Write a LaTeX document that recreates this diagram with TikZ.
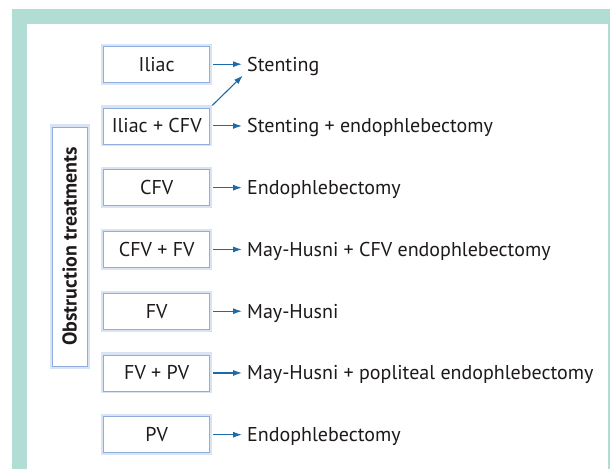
\documentclass[tikz,border=0pt]{standalone}
\usepackage{fontspec}
\setmainfont{PT Sans}
\usetikzlibrary{matrix,arrows.meta}
\definecolor{couleurcadre}{HTML}{B2DDD4}
\definecolor{couleurfleche}{HTML}{1D6AA6}
\definecolor{couleurlueur}{HTML}{8FAEDD}
\definecolor{couleurtext}{HTML}{1E1A1B}
\tikzset{
		basic/.style={draw=couleurlueur, line width=0.8pt, preaction={draw=couleurlueur!35, line width=5pt}, fill=white, text=couleurtext, text height=14pt, text depth=0pt, inner sep=0pt, anchor=center},
		site/.style={basic, minimum width=106pt, minimum height=36pt},
		titre/.style={basic, font=\bfseries, rotate=90, minimum width=239pt, minimum height=35pt},
		traitement/.style={text=couleurtext, text height=14pt, text depth=0pt, inner sep=2pt, anchor=west},
		fleche/.style={-{Latex[length=9pt,width=6pt]}, couleurfleche, line width=1.1pt, shorten <=3pt, shorten >=3pt}
	}
\begin{document}
\begin{tikzpicture}[x=1pt, y=1pt]
		\fontsize{20}{22} \selectfont
		% cadre
		\useasboundingbox (0,0) rectangle (610,469);
		\fill[white] (0,0) rectangle (610,469);
		\fill[couleurcadre] (12,0) rectangle (610,460);
		\fill[white] (27,0) rectangle (608,445);
		% titre vertical
		\node[titre](obstr) at (69.5,222.5){Obstruction treatments};
		% sites et traitements
		\matrix[row sep=20.75pt, column sep=33pt, anchor=north west, inner sep=0pt] at (101,425.5) {
			\node[site](iliac){Iliac}; & \node[traitement](stent){Stenting}; \\
			\node[site](iliacfv){Iliac + CFV}; & \node[traitement](stentendo){Stenting + endophlebectomy}; \\
			\node[site](cfv){CFV}; & \node[traitement](endocfv){Endophlebectomy}; \\
			\node[site](cfvfv){CFV + FV}; & \node[traitement](mayendo){May-Husni + CFV endophlebectomy}; \\
			\node[site](fv){FV}; & \node[traitement](mayhusni){May-Husni}; \\
			\node[site](fvpv){FV + PV}; & \node[traitement](maypopl){May-Husni + popliteal endophlebectomy}; \\
			\node[site](pv){PV}; & \node[traitement](endopv){Endophlebectomy}; \\
		};
		% fleches
		\draw[fleche] (iliac) -- (stent);
		\draw[fleche] (iliacfv) -- (stentendo);
		\draw[fleche] (iliacfv.north east) -- (stent.south west);
		\draw[fleche] (cfv) -- (endocfv);
		\draw[fleche] (cfvfv) -- (mayendo);
		\draw[fleche] (fv) -- (mayhusni);
		\draw[fleche] (fvpv) -- (maypopl);
		\draw[fleche] (pv) -- (endopv);
	\end{tikzpicture}
\end{document}
